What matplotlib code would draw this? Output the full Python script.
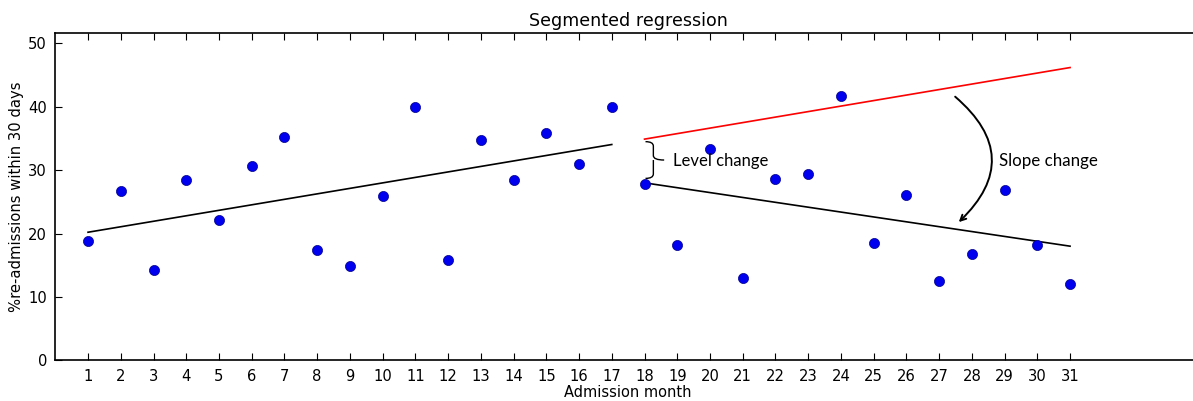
import matplotlib
matplotlib.use("Agg")
import matplotlib.pyplot as plt
from matplotlib.path import Path
from matplotlib.patches import PathPatch

months = list(range(1, 32))
readmit = [18.8, 26.7, 14.3, 28.5, 22.2, 30.7, 35.3, 17.4, 14.9, 25.9,
           40.0, 15.8, 34.8, 28.5, 35.9, 31.0, 40.0, 27.8, 18.2, 33.3,
           12.9, 28.6, 29.4, 41.7, 18.5, 26.1, 12.5, 16.7, 26.9, 18.2, 12.0]

pre_x = [1, 17]
pre_y = [20.2, 34.05]
post_x = [18, 31]
post_y = [28.0, 18.0]
cf_x = [18, 31]
cf_y = [34.9, 46.2]

title = "Segmented regression"
xlabel = "Admission month"
ylabel = "%re-admissions within 30 days"

plt.rcParams['font.family'] = ['DejaVu Sans']

W, H = 1193, 401
fig = plt.figure(figsize=(W / 100, H / 100), dpi=100)
left_px, right_px, top_px, bot_px = 55.3, 1201, 32.7, 360.2
ax = fig.add_axes([left_px / W, 1 - bot_px / H, (right_px - left_px) / W, (bot_px - top_px) / H])

ax.plot(pre_x, pre_y, color='black', lw=1.2)
ax.plot(post_x, post_y, color='black', lw=1.2)
ax.plot(cf_x, cf_y, color='red', lw=1.2)
ax.plot(months, readmit, 'o', color='#0000ee', ms=7.3, mec='#00008b', mew=0.5, zorder=3)

# level change brace
x0, x1, x2 = 18.03, 18.27, 18.6
yt, ym, yb = 34.5, 31.6, 28.7
verts = [(x0, yt), (x1, yt), (x1, yt - 0.7), (x1, ym + 0.7), (x1, ym), (x2, ym),
         (x1, ym), (x1, ym - 0.7), (x1, yb + 0.7), (x1, yb), (x0, yb)]
codes = [Path.MOVETO, Path.CURVE3, Path.CURVE3, Path.LINETO, Path.CURVE3, Path.CURVE3,
         Path.MOVETO, Path.CURVE3, Path.LINETO, Path.CURVE3, Path.CURVE3]
ax.add_patch(PathPatch(Path(verts, codes), fc='none', ec='black', lw=1.0))
ax.text(18.87, 31.5, "Level change", ha='left', va='center', fontsize=12, family=['Lato', 'DejaVu Sans'])

# slope change arrow
ax.annotate('', xy=(27.6, 21.8), xytext=(27.49, 41.6),
            arrowprops=dict(arrowstyle='->', color='black', lw=1.4,
                            connectionstyle='arc3,rad=-0.55', shrinkA=0, shrinkB=0))
ax.text(28.83, 31.5, "Slope change", ha='left', va='center', fontsize=12.2, family=['Lato', 'DejaVu Sans'])

ax.set_xlim(0, 35)
ax.set_ylim(0, 51.7)
ax.set_xticks(months)
ax.set_yticks([0, 10, 20, 30, 40, 50])
ax.tick_params(direction='in', top=True, right=True, length=5, width=0.8, labelsize=10.6, pad=6)
for s in ax.spines.values():
    s.set_linewidth(1.2)
ax.set_title(title, fontsize=12.6, pad=5)
ax.set_xlabel(xlabel, fontsize=10.5, labelpad=1)
ax.set_ylabel(ylabel, fontsize=10.6, labelpad=3)

fig.savefig("out.png", dpi=100)
